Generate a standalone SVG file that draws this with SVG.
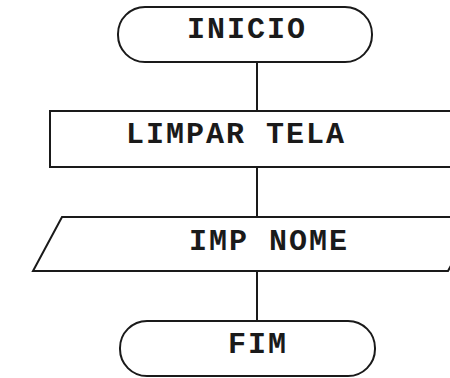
<svg xmlns="http://www.w3.org/2000/svg" width="450" height="378" viewBox="0 0 450 378">
  <style>
    .shape { fill: #ffffff; stroke: #1a1a1a; stroke-width: 2; }
    .label { font-family: "Liberation Mono", "Courier New", monospace; font-size: 30px; font-weight: bold; letter-spacing: 2px; fill: #1a1a1a; text-anchor: middle; }
    .link { stroke: #1a1a1a; stroke-width: 2; fill: none; }
  </style>
  <rect width="450" height="378" fill="#ffffff"/>
  <g id="connectors">
    <line class="link" x1="257" y1="62" x2="257" y2="111"/>
    <line class="link" x1="257" y1="167" x2="257" y2="217"/>
    <line class="link" x1="257" y1="271" x2="257" y2="321"/>
  </g>
  <g id="inicio">
    <rect class="shape" x="118" y="7" width="254" height="55" rx="27" ry="27"/>
    <text class="label" x="247" y="38">INICIO</text>
  </g>
  <g id="limpar-tela">
    <rect class="shape" x="50" y="111" width="420" height="56"/>
    <text class="label" x="236" y="143">LIMPAR TELA</text>
  </g>
  <g id="imp-nome">
    <polygon class="shape" points="62,217 478,217 448,271 33,271"/>
    <text class="label" x="269" y="250">IMP NOME</text>
  </g>
  <g id="fim">
    <rect class="shape" x="120" y="321" width="255" height="55" rx="27" ry="27"/>
    <text class="label" x="258" y="353">FIM</text>
  </g>
</svg>
